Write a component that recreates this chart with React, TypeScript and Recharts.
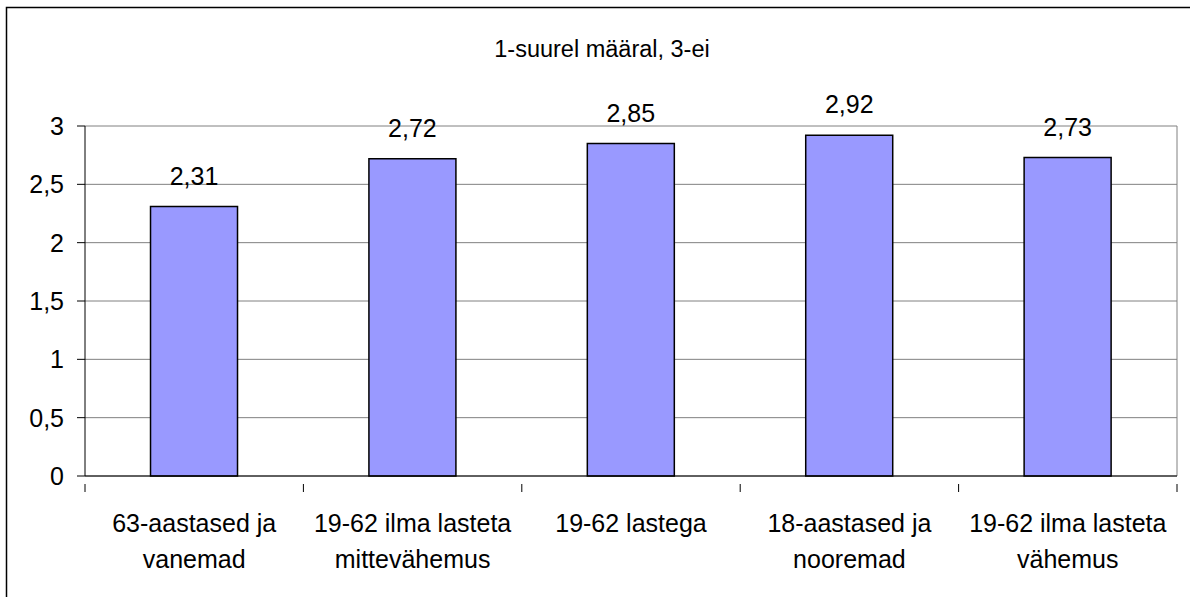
import { BarChart, Bar, XAxis, YAxis, CartesianGrid, LabelList } from "recharts";

const categories = [
  "63-aastased ja\nvanemad",
  "19-62 ilma lasteta\nmittevähemus",
  "19-62 lastega",
  "18-aastased ja\nnooremad",
  "19-62 ilma lasteta\nvähemus",
];
const values = [2.31, 2.72, 2.85, 2.92, 2.73];
const yTicks = [0, 0.5, 1, 1.5, 2, 2.5, 3];
const title = "1-suurel määral, 3-ei";

const data = categories.map((name, i) => ({ name, value: values[i] }));

const W = 1190;
const H = 597;
const margin = { top: 126, right: 13, bottom: 21, left: 25 };
const yAxisWidth = 60;
const plotWidth = W - margin.left - margin.right - yAxisWidth;
const step = plotWidth / categories.length;
const font = "'Liberation Sans', Arial, sans-serif";

const comma = (v: number, digits?: number) =>
  (digits === undefined ? String(v) : v.toFixed(digits)).replace(".", ",");

function CategoryTick(props: any) {
  const { x, y, payload, index } = props;
  const lines = String(payload.value).split("\n");
  const left = x - step / 2;
  return (
    <g>
      <line x1={left} y1={y} x2={left} y2={y + 8} stroke="#000" />
      {index === categories.length - 1 && (
        <line x1={x + step / 2} y1={y} x2={x + step / 2} y2={y + 8} stroke="#000" />
      )}
      <text x={x} y={y} textAnchor="middle" fontSize={25} fontFamily={font} fill="#000">
        {lines.map((l, i) => (
          <tspan key={i} x={x} dy={i === 0 ? 48 : 36}>
            {l}
          </tspan>
        ))}
      </text>
    </g>
  );
}

export default function App() {
  return (
    <div style={{ position: "absolute", left: 0, top: 0, width: W, height: H, background: "#fff" }}>
      <BarChart width={W} height={H} data={data} margin={margin} barCategoryGap="30%">
        <CartesianGrid
          stroke="#808080"
          verticalCoordinatesGenerator={({ offset }: any) => [offset.left + offset.width]}
        />
        <XAxis
          dataKey="name"
          height={100}
          interval={0}
          tickLine={false}
          axisLine={{ stroke: "#000" }}
          tick={<CategoryTick />}
        />
        <YAxis
          width={yAxisWidth}
          domain={[0, 3]}
          ticks={yTicks}
          tickSize={8}
          tickMargin={13}
          axisLine={{ stroke: "#000" }}
          tickLine={{ stroke: "#000" }}
          tickFormatter={(v: number) => comma(v)}
          tick={{ fontSize: 25, fontFamily: font, fill: "#000" }}
        />
        <Bar dataKey="value" fill="#9999FF" stroke="#000" strokeWidth={1.5} isAnimationActive={false}>
          <LabelList
            dataKey="value"
            position="top"
            offset={22}
            formatter={(v: any) => comma(Number(v), 2)}
            style={{ fontSize: 25, fontFamily: font, fill: "#000" }}
          />
        </Bar>
      </BarChart>
      <svg width={W} height={H} style={{ position: "absolute", left: 0, top: 0, pointerEvents: "none" }}>
        <rect x={6.5} y={7.5} width={W + 20} height={H + 20} fill="none" stroke="#000" strokeWidth={1.5} />
        <text x={602} y={49} textAnchor="middle" dominantBaseline="central" fontSize={23.5} fontFamily={font} fill="#000">
          {title}
        </text>
      </svg>
    </div>
  );
}
